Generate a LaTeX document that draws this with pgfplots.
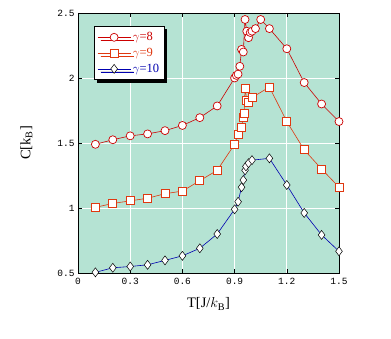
\documentclass[border=0pt]{standalone}
\usepackage{pgfplots}
\pgfplotsset{compat=1.18}
\usepackage{fontspec}
\setmainfont{Liberation Serif}
\newfontfamily\tickfont{Liberation Mono}
\usetikzlibrary{shadows}
\definecolor{bgteal}{RGB}{181,227,211}
\definecolor{cred}{RGB}{204,0,0}
\definecolor{corange}{RGB}{224,56,16}
\definecolor{cblue}{RGB}{0,0,176}

\begin{document}
\begin{tikzpicture}
\useasboundingbox (0pt,0pt) rectangle (391pt,339pt);
\begin{axis}[
    at={(78pt,66pt)}, anchor=south west,
    scale only axis,
    width=261pt, height=260pt,
    xmin=0, xmax=1.5, ymin=0.5, ymax=2.5,
    xtick={0,0.3,0.6,0.9,1.2,1.5},
    ytick={0.5,1,1.5,2,2.5},
    xticklabels={0,0.3,0.6,0.9,1.2,1.5},
    yticklabels={0.5,1,1.5,2,2.5},
    tick align=inside,
    major tick length=4pt,
    tick style={black, line width=0.6pt},
    axis line style={black, line width=0.8pt},
    axis background/.style={fill=bgteal},
    grid=major,
    grid style={white, line width=0.9pt},
    ticklabel style={font=\tickfont\fontsize{9.5}{11}\selectfont},
    xticklabel style={yshift=-2pt},
    xlabel={T[J/$k_{\mathrm{B}}$]},
    ylabel={C[k$_{\mathrm{B}}$]},
    label style={font=\fontsize{14.5}{16}\selectfont},
    xlabel style={yshift=-6pt},
    ylabel style={yshift=18pt},
    legend cell align=left,
    legend style={at={(0.061,0.95)}, anchor=north west,
        draw=black, line width=0.8pt, fill=white,
        drop shadow={shadow xshift=3pt, shadow yshift=-3pt, fill=black, opacity=1},
        font=\fontsize{12.5}{13}\selectfont,
        row sep=2pt, inner xsep=3pt, inner ysep=4pt},
    legend image code/.code={
        \draw[#1, mark=none] (0pt,0pt) -- (33pt,0pt);
        \draw[#1, only marks] plot coordinates {(16.5pt,0pt)};
    },
]
\addplot[cred, line width=0.6pt, mark=*, mark size=4pt,
    mark options={fill=white, line width=0.7pt}] coordinates {
    (0.1,1.49) (0.2,1.525) (0.3,1.555) (0.4,1.57) (0.5,1.595) (0.6,1.635)
    (0.7,1.695) (0.8,1.785) (0.9,2.0) (0.91,2.02) (0.92,2.03) (0.93,2.09)
    (0.94,2.22) (0.95,2.20) (0.96,2.45) (0.97,2.36) (0.98,2.31) (0.99,2.35)
    (1.0,2.36) (1.02,2.38) (1.05,2.45) (1.1,2.38) (1.2,2.225) (1.3,1.965)
    (1.4,1.80) (1.5,1.665)
};
\addlegendentry{\textcolor{cred}{$\gamma$=8}}
\addplot[corange, line width=0.6pt, mark=square*, mark size=4pt,
    mark options={fill=white, line width=0.9pt}] coordinates {
    (0.1,1.005) (0.2,1.035) (0.3,1.055) (0.4,1.075) (0.5,1.11) (0.6,1.13)
    (0.7,1.21) (0.8,1.29) (0.9,1.49) (0.92,1.565) (0.94,1.62) (0.95,1.70)
    (0.955,1.73) (0.96,1.92) (0.97,1.83) (0.98,1.815) (1.0,1.85) (1.1,1.93)
    (1.2,1.665) (1.3,1.447) (1.4,1.30) (1.5,1.16)
};
\addlegendentry{\textcolor{corange}{$\gamma$=9}}
\addplot[cblue, line width=0.6pt, mark=diamond*, mark size=4.5pt,
    mark options={fill=white, draw=black, line width=0.5pt}] coordinates {
    (0.1,0.505) (0.2,0.54) (0.3,0.55) (0.4,0.563) (0.5,0.597) (0.6,0.632)
    (0.7,0.69) (0.8,0.80) (0.9,0.99) (0.92,1.048) (0.94,1.16) (0.95,1.215)
    (0.96,1.29) (0.965,1.32) (0.98,1.345) (1.0,1.368) (1.1,1.382) (1.2,1.177)
    (1.3,0.962) (1.4,0.793) (1.5,0.667)
};
\addlegendentry{\textcolor{cblue}{$\gamma$=10}}
\end{axis}
\end{tikzpicture}
\end{document}
